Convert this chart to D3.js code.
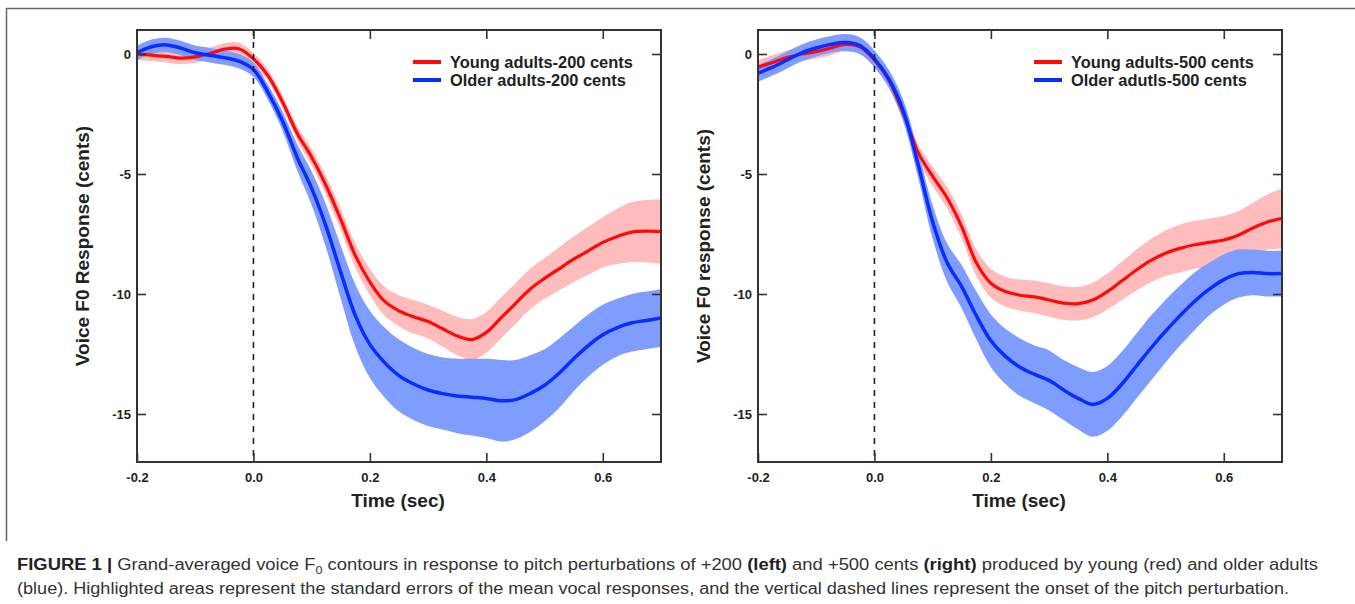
<!DOCTYPE html>
<html><head><meta charset="utf-8">
<script src="https://cdn.jsdelivr.net/npm/d3@7"></script>
<style>
html,body{margin:0;padding:0;background:#fff;}
svg{display:block;font-family:"Liberation Sans",Arial,sans-serif;}
</style></head>
<body><svg id="c" width="1355" height="604"></svg>
<script>
const time = [-0.2,-0.175,-0.15,-0.125,-0.1,-0.075,-0.05,-0.025,0,0.025,0.05,0.075,0.1,0.125,0.15,0.175,0.2,0.225,0.25,0.275,0.3,0.325,0.35,0.375,0.4,0.425,0.45,0.475,0.5,0.525,0.55,0.575,0.6,0.625,0.65,0.675,0.7];

const young200 = [0.0,-0.05,-0.1,-0.17,-0.12,0.02,0.2,0.22,-0.2,-0.9,-2.0,-3.3,-4.3,-5.5,-6.9,-8.4,-9.5,-10.3,-10.7,-10.95,-11.15,-11.45,-11.75,-11.9,-11.6,-11.0,-10.4,-9.8,-9.35,-8.95,-8.55,-8.2,-7.85,-7.6,-7.42,-7.38,-7.4];
const young200SE = [0.25,0.25,0.25,0.25,0.25,0.25,0.25,0.25,0.25,0.25,0.25,0.3,0.35,0.4,0.45,0.5,0.55,0.6,0.65,0.7,0.7,0.75,0.8,0.85,0.85,0.85,0.85,0.85,0.85,0.9,0.95,1.0,1.05,1.15,1.25,1.3,1.35];
const older200 = [0.05,0.3,0.38,0.25,0.05,-0.05,-0.15,-0.3,-0.65,-1.6,-2.8,-4.3,-5.6,-7.2,-9.1,-10.9,-12.1,-12.85,-13.4,-13.75,-14.0,-14.15,-14.25,-14.3,-14.35,-14.45,-14.4,-14.15,-13.8,-13.3,-12.7,-12.15,-11.7,-11.4,-11.2,-11.1,-11.0];
const older200SE = [0.3,0.3,0.3,0.3,0.3,0.3,0.3,0.3,0.3,0.32,0.4,0.55,0.7,0.9,1.1,1.3,1.4,1.45,1.5,1.5,1.5,1.5,1.55,1.6,1.65,1.7,1.65,1.6,1.5,1.45,1.35,1.3,1.25,1.2,1.2,1.2,1.2];

const young500 = [-0.55,-0.35,-0.15,0.0,0.1,0.25,0.4,0.3,-0.25,-1.1,-2.5,-4.1,-5.1,-6.0,-7.2,-8.7,-9.55,-9.9,-10.05,-10.12,-10.25,-10.38,-10.4,-10.25,-9.9,-9.45,-9.0,-8.6,-8.3,-8.1,-7.95,-7.85,-7.75,-7.55,-7.25,-7.0,-6.85];
const young500SE = [0.3,0.3,0.3,0.3,0.3,0.3,0.3,0.3,0.3,0.3,0.32,0.35,0.4,0.45,0.5,0.55,0.6,0.62,0.65,0.68,0.7,0.7,0.7,0.72,0.75,0.8,0.85,0.9,0.95,1.0,1.0,1.0,1.0,1.0,1.05,1.15,1.25];
const older500 = [-0.8,-0.55,-0.25,0.05,0.25,0.4,0.48,0.35,-0.2,-1.05,-2.4,-4.6,-7.0,-8.7,-9.7,-10.9,-11.95,-12.6,-13.05,-13.35,-13.6,-14.0,-14.35,-14.6,-14.35,-13.75,-13.0,-12.25,-11.55,-10.9,-10.3,-9.8,-9.4,-9.15,-9.1,-9.15,-9.15];
const older500SE = [0.35,0.35,0.35,0.35,0.35,0.35,0.35,0.35,0.35,0.38,0.45,0.55,0.7,0.8,0.9,1.0,1.1,1.15,1.2,1.2,1.25,1.25,1.3,1.35,1.35,1.35,1.35,1.35,1.3,1.25,1.2,1.1,1.05,1.0,0.95,0.95,0.95];

const xTicks = [-0.2,0.0,0.2,0.4,0.6];
const yTicks = [0,-5,-10,-15];
const panels = [
  {young: young200, youngSE: young200SE, older: older200, olderSE: older200SE,
   yTitle: "Voice F0 Response (cents)", legend: ["Young adults-200 cents","Older adults-200 cents"]},
  {young: young500, youngSE: young500SE, older: older500, olderSE: older500SE,
   yTitle: "Voice F0 response (cents)", legend: ["Young adults-500 cents","Older adutls-500 cents"]}
];

const svg = d3.select("#c");
const RED = "#ff0a0a", RED_BAND = "#ffbcbc", BLUE = "#0a2dff", BLUE_BAND = "#7f9cff", INK = "#222";

// figure frame (top and left)
svg.append("line").attr("x1",6).attr("x2",1355).attr("y1",8.5).attr("y2",8.5).attr("stroke","#666").attr("stroke-width",1.5);
svg.append("line").attr("x1",6.5).attr("x2",6.5).attr("y1",8).attr("y2",541).attr("stroke","#666").attr("stroke-width",1.5);

const lefts = [137, 758];
const W = 524, plotTop = 30, plotBottom = 462;

panels.forEach((p, i) => {
  const x0 = lefts[i];
  const x = d3.scaleLinear().domain([-0.2, 0.7]).range([x0, x0 + W]);
  const y = d3.scaleLinear().domain([-17, 1]).range([plotBottom, plotTop]);
  const g = svg.append("g");

  const band = (m, se) => d3.area().curve(d3.curveCatmullRom)
      .x((d, k) => x(time[k])).y0((d, k) => y(m[k] - se[k])).y1((d, k) => y(m[k] + se[k]));
  const line = (m) => d3.line().curve(d3.curveCatmullRom).x((d, k) => x(time[k])).y((d, k) => y(m[k]));

  g.append("path").datum(time).attr("d", band(p.young, p.youngSE)).attr("fill", RED_BAND);
  g.append("path").datum(time).attr("d", band(p.older, p.olderSE)).attr("fill", BLUE_BAND);
  g.append("path").datum(time).attr("d", line(p.young)).attr("fill","none").attr("stroke", RED).attr("stroke-width", 3.2);
  g.append("path").datum(time).attr("d", line(p.older)).attr("fill","none").attr("stroke", BLUE).attr("stroke-width", 3.5);

  // dashed onset line
  g.append("line").attr("x1", x(0)).attr("x2", x(0)).attr("y1", plotTop).attr("y2", plotBottom)
    .attr("stroke", "#222").attr("stroke-width", 1.6).attr("stroke-dasharray", "6,6");

  // axes
  const fmtX = d => d.toFixed(1);
  const fmtY = d => String(d);
  const ax = (sel) => { sel.select(".domain").remove(); sel.selectAll(".tick line").attr("stroke","#333").attr("stroke-width",1.6);
    sel.selectAll("text").attr("fill", INK).attr("font-weight","bold").attr("font-size", 13).attr("font-family","Liberation Sans, Arial, sans-serif"); };
  g.append("g").attr("transform", `translate(0,${plotBottom})`)
    .call(d3.axisBottom(x).tickValues(xTicks).tickFormat(fmtX).tickSize(-9).tickPadding(11)).call(ax);
  g.append("g").attr("transform", `translate(0,${plotTop})`)
    .call(d3.axisTop(x).tickValues(xTicks.slice(1)).tickFormat("").tickSize(-9)).call(ax);
  g.append("g").attr("transform", `translate(${x0},0)`)
    .call(d3.axisLeft(y).tickValues(yTicks).tickFormat(fmtY).tickSize(-9).tickPadding(6)).call(ax);
  g.append("g").attr("transform", `translate(${x0 + W},0)`)
    .call(d3.axisRight(y).tickValues(yTicks).tickFormat("").tickSize(-9)).call(ax);

  g.append("rect").attr("x", x0).attr("y", plotTop).attr("width", W).attr("height", plotBottom - plotTop)
    .attr("fill","none").attr("stroke","#333").attr("stroke-width", 2);

  // titles
  g.append("text").attr("x", x0 + 261).attr("y", 507).attr("text-anchor","middle")
    .attr("font-weight","bold").attr("font-size", 19).attr("fill", INK).text("Time (sec)");
  g.append("text").attr("transform", `translate(${x0 - 48},${246}) rotate(-90)`).attr("text-anchor","middle")
    .attr("font-weight","bold").attr("font-size", 19).attr("fill", INK).text(p.yTitle);

  // legend
  const lx = x0 + 276;
  [[RED, p.legend[0], 62], [BLUE, p.legend[1], 80]].forEach(([c, t, ly]) => {
    g.append("line").attr("x1", lx).attr("x2", lx + 28).attr("y1", ly).attr("y2", ly).attr("stroke", c).attr("stroke-width", 4);
    g.append("text").attr("x", lx + 37).attr("y", ly + 5.5).attr("font-weight","bold").attr("font-size", 16.4).attr("fill", INK).text(t);
  });
});

// caption
const cap1 = svg.append("text").attr("x", 17).attr("y", 570).attr("font-size", 16).attr("fill", "#333")
  .attr("textLength", 1301).attr("lengthAdjust", "spacingAndGlyphs");
cap1.append("tspan").attr("font-weight","bold").attr("fill","#222").text("FIGURE 1 | ");
cap1.append("tspan").text("Grand-averaged voice F");
cap1.append("tspan").attr("font-size", 11).attr("dy", 4).text("0");
cap1.append("tspan").attr("dy", -4).text(" contours in response to pitch perturbations of +200 ");
cap1.append("tspan").attr("font-weight","bold").attr("fill","#222").text("(left)");
cap1.append("tspan").text(" and +500 cents ");
cap1.append("tspan").attr("font-weight","bold").attr("fill","#222").text("(right)");
cap1.append("tspan").text(" produced by young (red) and older adults");

svg.append("text").attr("x", 17).attr("y", 594).attr("font-size", 16).attr("fill", "#333")
  .attr("textLength", 1272).attr("lengthAdjust", "spacingAndGlyphs")
  .text("(blue). Highlighted areas represent the standard errors of the mean vocal responses, and the vertical dashed lines represent the onset of the pitch perturbation.");
</script>
</body></html>
